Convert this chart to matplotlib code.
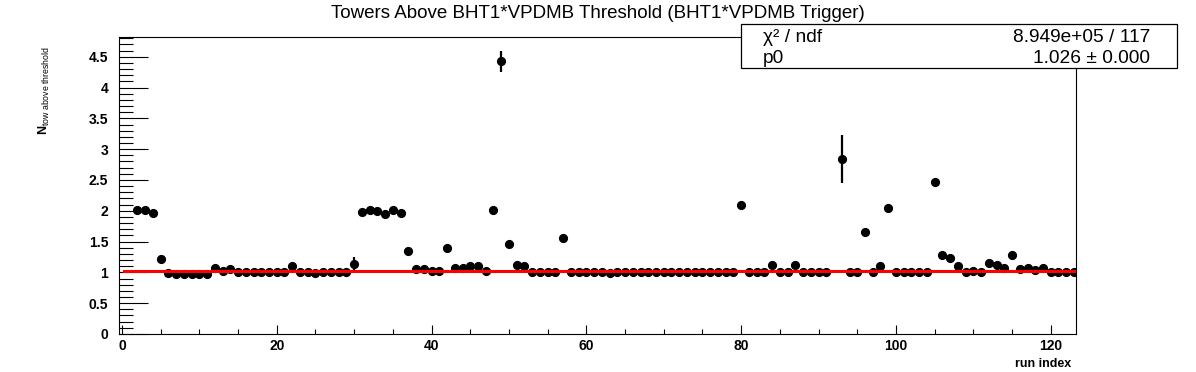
import matplotlib
matplotlib.use("Agg")
import matplotlib.pyplot as plt
from matplotlib.patches import Rectangle
from matplotlib.ticker import MultipleLocator

plt.rcParams["font.family"] = ["Liberation Sans", "DejaVu Sans"]
plt.rcParams["mathtext.fontset"] = "custom"
plt.rcParams["mathtext.rm"] = "Liberation Sans"
plt.rcParams["mathtext.it"] = "Liberation Sans:italic"
plt.rcParams["mathtext.bf"] = "Liberation Sans:bold"

# run index 92 has no entry
run_index = list(range(2, 92)) + list(range(93, 124))

n_tow = [
    2.01, 2.01, 1.97, 1.22, 0.99, 0.98, 0.98, 0.98, 0.98, 0.98,   # 2-11
    1.07, 1.02, 1.05, 1.00, 1.00, 1.00, 1.00, 1.00, 1.00, 1.00,   # 12-21
    1.10, 1.00, 1.00, 0.99, 1.00, 1.00, 1.00, 1.00, 1.13, 1.98,   # 22-31
    2.02, 2.00, 1.94, 2.02, 1.97, 1.34, 1.05, 1.05, 1.03, 1.03,   # 32-41
    1.39, 1.07, 1.07, 1.10, 1.10, 1.03, 2.02, 4.43, 1.46, 1.12,   # 42-51
    1.11, 1.01, 1.01, 1.01, 1.01, 1.56, 1.00, 1.00, 1.00, 1.00,   # 52-61
    1.00, 0.99, 1.00, 1.00, 1.00, 1.00, 1.00, 1.00, 1.00, 1.00,   # 62-71
    1.00, 1.00, 1.00, 1.00, 1.00, 1.00, 1.00, 1.00, 2.09, 1.00,   # 72-81
    1.00, 1.00, 1.12, 1.00, 1.00, 1.12, 1.00, 1.00, 1.00, 1.00,   # 82-91
    2.84, 1.00, 1.00, 1.65, 1.00, 1.10, 2.05, 1.00, 1.00, 1.00,   # 93-102
    1.00, 1.00, 2.47, 1.29, 1.24, 1.10, 1.01, 1.03, 1.01, 1.16,   # 103-112
    1.12, 1.07, 1.29, 1.05, 1.07, 1.04, 1.07, 1.00, 1.00, 1.00,   # 113-122
    1.00,                                                         # 123
]

n_tow_err = [
    0.02, 0.02, 0.02, 0.07, 0.01, 0.01, 0.01, 0.01, 0.01, 0.01,
    0.02, 0.01, 0.02, 0.01, 0.01, 0.01, 0.01, 0.01, 0.01, 0.01,
    0.02, 0.01, 0.01, 0.01, 0.01, 0.01, 0.01, 0.01, 0.12, 0.02,
    0.02, 0.02, 0.02, 0.02, 0.02, 0.03, 0.01, 0.01, 0.01, 0.01,
    0.03, 0.01, 0.01, 0.02, 0.02, 0.01, 0.03, 0.17, 0.03, 0.02,
    0.02, 0.01, 0.01, 0.01, 0.01, 0.03, 0.01, 0.01, 0.01, 0.01,
    0.01, 0.01, 0.01, 0.01, 0.01, 0.01, 0.01, 0.01, 0.01, 0.01,
    0.01, 0.01, 0.01, 0.01, 0.01, 0.01, 0.01, 0.01, 0.03, 0.01,
    0.01, 0.01, 0.02, 0.01, 0.01, 0.02, 0.01, 0.01, 0.01, 0.01,
    0.39, 0.01, 0.01, 0.05, 0.01, 0.02, 0.03, 0.01, 0.01, 0.01,
    0.01, 0.01, 0.03, 0.02, 0.02, 0.02, 0.01, 0.01, 0.01, 0.02,
    0.02, 0.01, 0.02, 0.01, 0.01, 0.01, 0.01, 0.01, 0.01, 0.01,
    0.01,
]

# constant fit result
p0 = 1.026
chi2_text = "8.949e+05 / 117"
p0_text = "1.026 \u00b1 0.000"
fit_range = [0.25, 123.2]

fig = plt.figure(figsize=(11.96, 3.72), dpi=100)
ax = fig.add_axes([0.0999, 0.1022, 0.8, 0.7983])

ax.errorbar(run_index, n_tow, yerr=n_tow_err, fmt="o", color="black",
            ms=5.6, elinewidth=1.6, capsize=0, zorder=3)
ax.plot(fit_range, [p0, p0], color="#ff0000", lw=2.2, zorder=4)

ax.set_xlim(-0.32, 123.3)
ax.set_ylim(0, 4.82)

ax.xaxis.set_major_locator(MultipleLocator(20))
ax.xaxis.set_minor_locator(MultipleLocator(5))
ax.yaxis.set_minor_locator(MultipleLocator(0.1))
ax.set_yticks([0, 0.5, 1, 1.5, 2, 2.5, 3, 3.5, 4, 4.5])
ax.set_yticklabels(["0", "0.5", "1", "1.5", "2", "2.5", "3", "3.5", "4", "4.5"])

ax.tick_params(axis="both", which="both", direction="in", width=0.8,
               top=False, right=False)
ax.tick_params(axis="y", which="major", length=21, pad=8, labelsize=10)
ax.tick_params(axis="y", which="minor", length=10)
ax.tick_params(axis="x", which="major", length=6.5, pad=3.5, labelsize=10)
ax.tick_params(axis="x", which="minor", length=3.6)
for lab in ax.get_xticklabels() + ax.get_yticklabels():
    lab.set_fontweight("bold")
for sp in ax.spines.values():
    sp.set_linewidth(0.8)

fig.text(0.8955, 0.022, "run index", ha="right", va="center",
         fontsize=9, fontweight="bold")
fig.text(0.037, 0.875, r"$\mathbf{N}_{\mathrm{tow\ above\ threshold}}$",
         rotation=90, ha="center", va="top", fontsize=9)

fig.text(0.5, 0.965, "Towers Above BHT1*VPDMB Threshold (BHT1*VPDMB Trigger)",
         ha="center", va="center", fontsize=13.5)

# stats box
box = Rectangle((0.6196, 0.8172), 0.3645, 0.1183, transform=fig.transFigure,
                facecolor="white", edgecolor="black", lw=0.9, zorder=10)
fig.patches.append(box)
fig.text(0.638, 0.9005, "\u03c7\u00b2 / ndf", ha="left", va="center",
         fontsize=13.8, zorder=11)
fig.text(0.9615, 0.9005, chi2_text, ha="right", va="center",
         fontsize=13.8, zorder=11)
fig.text(0.638, 0.843, "p0", ha="left", va="center", fontsize=13.8, zorder=11)
fig.text(0.9615, 0.843, p0_text, ha="right", va="center",
         fontsize=13.8, zorder=11)

fig.savefig("out.png", dpi=100)
